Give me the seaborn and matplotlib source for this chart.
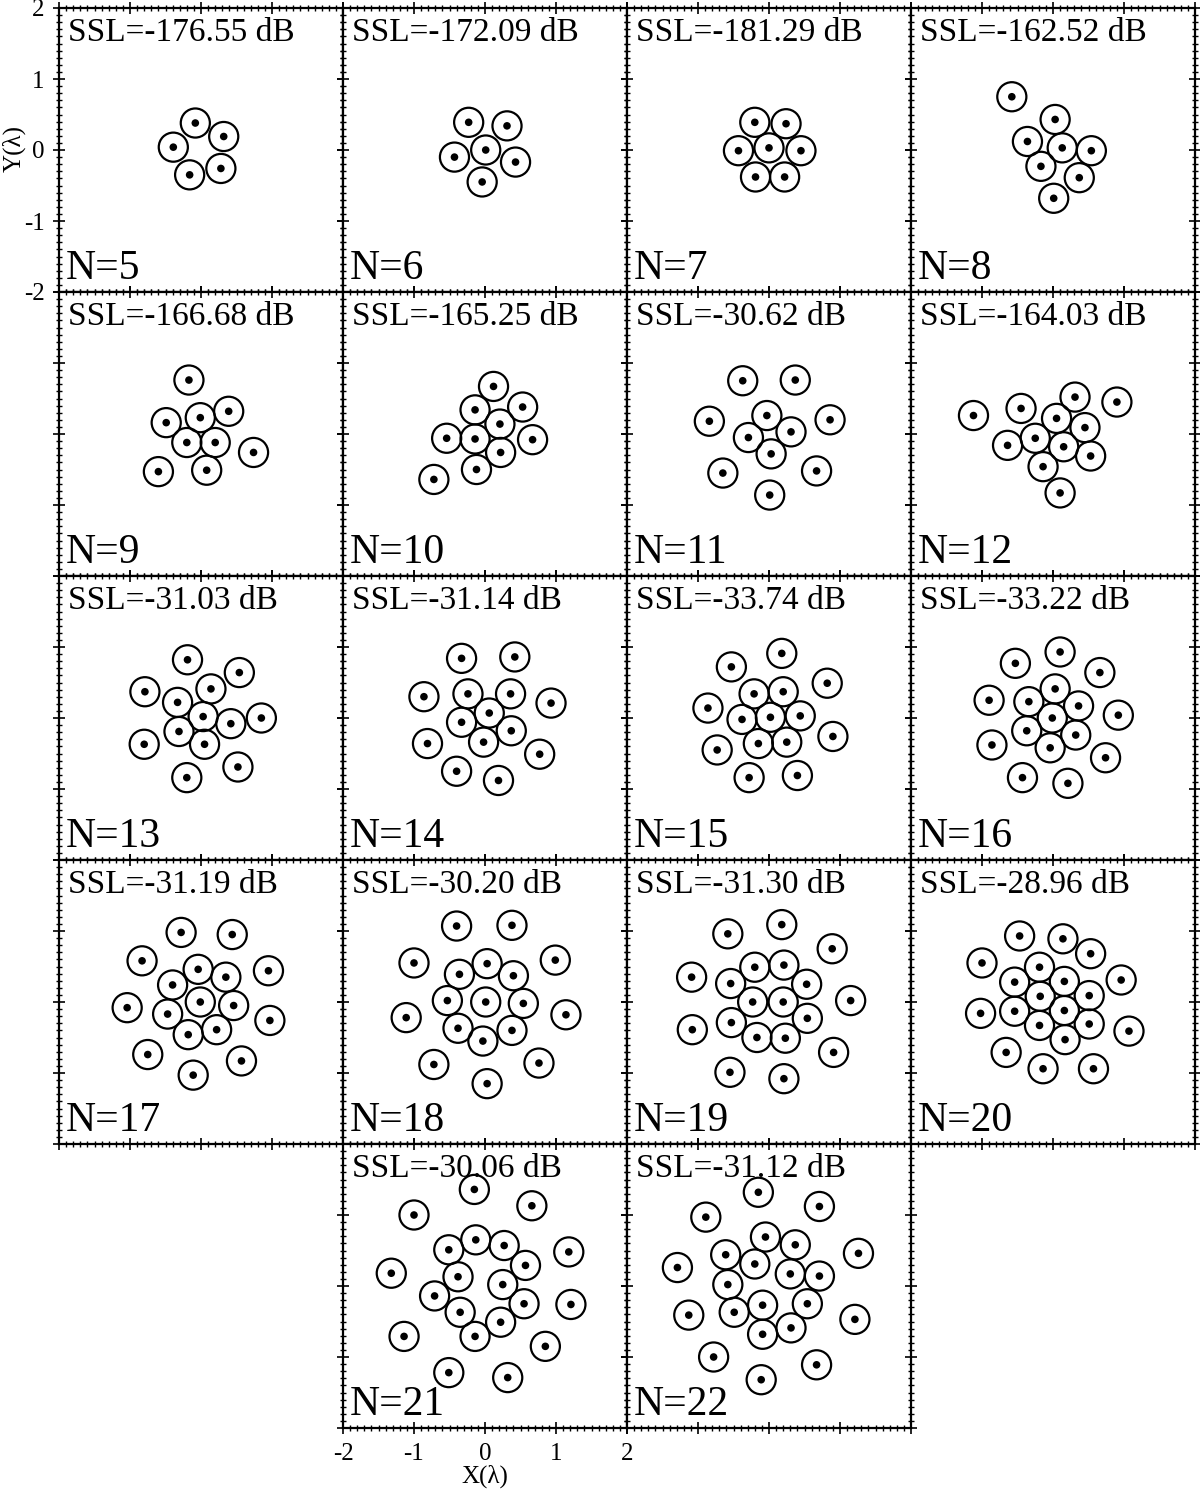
import numpy as np
import pandas as pd
import matplotlib
matplotlib.use("Agg")
import matplotlib.pyplot as plt
import seaborn as sns
from matplotlib.patches import Circle
from matplotlib.ticker import MultipleLocator

# element counts and side-lobe levels
n_elements = list(range(5, 23))
ssl_db = [-176.55, -172.09, -181.29, -162.52, -166.68, -165.25, -30.62, -164.03,
          -31.03, -31.14, -33.74, -33.22, -31.19, -30.20, -31.30, -28.96,
          -30.06, -31.12]

# element positions (in wavelengths)
x5 = [-0.08, 0.32, -0.39, 0.28, -0.16]
y5 = [0.38, 0.19, 0.04, -0.26, -0.35]
x6 = [-0.23, 0.31, -0.43, 0.01, 0.43, -0.04]
y6 = [0.39, 0.34, -0.10, 0.00, -0.17, -0.45]
x7 = [-0.20, 0.24, -0.43, 0.00, 0.45, -0.19, 0.22]
y7 = [0.39, 0.37, -0.01, 0.03, -0.01, -0.38, -0.38]
x8 = [-0.58, 0.03, -0.36, 0.13, 0.54, -0.17, 0.37, 0.01]
y8 = [0.75, 0.43, 0.12, 0.03, -0.01, -0.23, -0.39, -0.68]
x9 = [-0.17, -0.49, -0.01, 0.39, -0.20, 0.20, 0.74, -0.60, 0.08]
y9 = [0.76, 0.16, 0.23, 0.32, -0.12, -0.12, -0.26, -0.53, -0.51]
x10 = [0.12, -0.14, 0.53, 0.21, -0.54, -0.14, 0.67, 0.22, -0.12, -0.72]
y10 = [0.67, 0.34, 0.38, 0.14, -0.06, -0.07, -0.08, -0.26, -0.50, -0.64]
x11 = [-0.37, 0.37, -0.84, -0.03, 0.86, -0.29, 0.31, 0.03, -0.65, 0.67, 0.01]
y11 = [0.75, 0.76, 0.18, 0.26, 0.20, -0.05, 0.03, -0.28, -0.55, -0.52, -0.86]
x12 = [-1.12, -0.45, 0.31, 0.90, 0.05, 0.45, -0.64, -0.25, 0.15, 0.53, -0.14, 0.10]
y12 = [0.26, 0.36, 0.52, 0.45, 0.22, 0.09, -0.16, -0.06, -0.18, -0.31, -0.46, -0.83]
x13 = [-0.19, 0.54, -0.79, 0.14, -0.33, 0.03, 0.42, 0.85, -0.31, 0.05, -0.80, 0.52, -0.20]
y13 = [0.82, 0.64, 0.37, 0.41, 0.22, 0.02, -0.08, 0.00, -0.19, -0.37, -0.37, -0.69, -0.84]
x14 = [-0.33, 0.42, -0.86, -0.24, 0.36, 0.93, 0.06, -0.33, 0.37, -0.81, -0.02, 0.77,
       -0.40, 0.19]
y14 = [0.84, 0.86, 0.30, 0.34, 0.34, 0.21, 0.07, -0.06, -0.18, -0.36, -0.34, -0.51,
       -0.75, -0.88]
x15 = [0.18, -0.53, 0.82, -0.21, 0.20, -0.86, -0.38, 0.02, 0.44, 0.90, -0.15, 0.25,
       -0.73, -0.28, 0.40]
y15 = [0.91, 0.72, 0.49, 0.34, 0.37, 0.14, -0.02, 0.01, 0.03, -0.26, -0.36, -0.34,
       -0.45, -0.84, -0.81]
x16 = [0.10, -0.53, 0.66, -0.90, 0.03, -0.34, 0.36, 0.92, -0.01, -0.37, 0.32, -0.86,
       -0.04, 0.74, -0.43, 0.21]
y16 = [0.93, 0.77, 0.64, 0.25, 0.41, 0.23, 0.17, 0.04, 0.00, -0.18, -0.24, -0.38,
       -0.42, -0.56, -0.84, -0.92]
x17 = [-0.28, 0.44, -0.83, -0.04, 0.35, 0.95, -0.40, -0.01, 0.46, -1.04, -0.47, 0.97,
       -0.18, 0.22, -0.75, 0.57, -0.11]
y17 = [0.98, 0.95, 0.58, 0.46, 0.35, 0.44, 0.24, 0.00, -0.05, -0.08, -0.17, -0.26,
       -0.46, -0.39, -0.74, -0.83, -1.03]
x18 = [-0.40, 0.38, -1.00, 0.99, 0.03, -0.36, 0.40, -0.53, 0.01, 0.54, -1.11, 1.14,
       -0.38, 0.38, -0.03, -0.72, 0.76, 0.03]
y18 = [1.07, 1.08, 0.55, 0.59, 0.54, 0.39, 0.37, 0.02, 0.00, -0.02, -0.22, -0.18,
       -0.37, -0.40, -0.55, -0.88, -0.86, -1.15]
x19 = [0.18, -0.58, 0.89, -1.09, -0.20, 0.21, -0.54, 0.53, 1.15, -0.23, 0.20, -0.53,
       0.54, -1.08, -0.17, 0.23, 0.91, -0.55, 0.21]
y19 = [1.09, 0.96, 0.75, 0.35, 0.49, 0.52, 0.26, 0.25, 0.02, 0.00, 0.00, -0.29,
       -0.23, -0.39, -0.50, -0.51, -0.71, -0.99, -1.08]
x20 = [-0.47, 0.14, 0.53, -1.00, -0.19, 0.96, -0.54, 0.16, -0.18, 0.51, -1.02, -0.54,
       0.16, -0.19, 0.51, 1.07, 0.17, -0.66, -0.14, 0.57]
y20 = [0.93, 0.89, 0.68, 0.55, 0.49, 0.31, 0.28, 0.29, 0.08, 0.09, -0.16, -0.13,
       -0.12, -0.33, -0.31, -0.41, -0.53, -0.71, -0.94, -0.94]
x21 = [-0.15, 0.66, -1.00, -0.13, -0.51, 0.27, 1.18, 0.57, -1.32, -0.38, 0.25, -0.71,
       0.55, 1.21, -0.35, 0.22, -1.14, -0.14, 0.85, -0.51, 0.32]
y21 = [1.36, 1.13, 1.00, 0.65, 0.51, 0.57, 0.48, 0.29, 0.18, 0.13, 0.02, -0.14,
       -0.25, -0.26, -0.37, -0.51, -0.71, -0.71, -0.85, -1.22, -1.29]
x22 = [-0.15, 0.71, -0.89, -0.05, 0.37, -0.61, 1.26, -0.20, 0.30, -1.29, 0.71, -0.58,
       0.54, -0.09, -0.49, -1.13, 1.21, 0.31, -0.09, -0.78, 0.67, -0.11]
y22 = [1.32, 1.12, 0.97, 0.69, 0.58, 0.44, 0.46, 0.31, 0.17, 0.26, 0.14, 0.02,
       -0.25, -0.27, -0.37, -0.41, -0.47, -0.59, -0.68, -1.00, -1.11, -1.32]

xs = [x5, x6, x7, x8, x9, x10, x11, x12, x13, x14, x15, x16, x17, x18, x19, x20, x21, x22]
ys = [y5, y6, y7, y8, y9, y10, y11, y12, y13, y14, y15, y16, y17, y18, y19, y20, y21, y22]

rows = []
for n, xx, yy in zip(n_elements, xs, ys):
    for a, b in zip(xx, yy):
        rows.append({"N": n, "x": a, "y": b})
df = pd.DataFrame(rows)

sns.set_style("white")
plt.rcParams["font.family"] = ["Liberation Serif", "DejaVu Serif"]
plt.rcParams["text.color"] = "black"
plt.rcParams["axes.labelcolor"] = "black"
plt.rcParams["xtick.color"] = "black"
plt.rcParams["ytick.color"] = "black"
plt.rcParams["xtick.labelsize"] = 18
plt.rcParams["ytick.labelsize"] = 18

W, H = 1200, 1499
fig = plt.figure(figsize=(W / 100, H / 100), dpi=100)

# grid cell for each panel (row, col)
cells = [(r, c) for r in range(4) for c in range(4)] + [(4, 1), (4, 2)]
left0, top0, size = 59, 8, 284
radius = 0.205
ticks = [-2, -1, 0, 1, 2]

for i, n in enumerate(n_elements):
    r, c = cells[i]
    ax = fig.add_axes([(left0 + c * size) / W, 1 - (top0 + (r + 1) * size) / H,
                       size / W, size / H])
    sub = df[df["N"] == n]
    for a, b in zip(sub["x"], sub["y"]):
        ax.add_patch(Circle((a, b), radius, fill=False, ec="black", lw=1.6, zorder=2))
    sns.scatterplot(data=sub, x="x", y="y", ax=ax, color="black", s=30,
                    edgecolor="none", zorder=3, legend=False)
    ax.set_xlim(-2, 2)
    ax.set_ylim(-2, 2)
    ax.set_xticks(ticks)
    ax.set_yticks(ticks)
    ax.xaxis.set_minor_locator(MultipleLocator(0.1))
    ax.yaxis.set_minor_locator(MultipleLocator(0.1))
    ax.tick_params(which="major", direction="inout", length=9, width=1.2,
                   top=True, right=True, bottom=True, left=True, pad=6)
    ax.tick_params(which="minor", direction="inout", length=4, width=1.0,
                   top=True, right=True, bottom=True, left=True)
    for sp in ax.spines.values():
        sp.set_visible(True)
        sp.set_color("black")
        sp.set_linewidth(1.6)
    ax.set_xlabel("")
    ax.set_ylabel("")
    if n == 5:
        ax.set_yticklabels([str(t) for t in ticks], fontsize=18)
    else:
        ax.tick_params(axis="y", labelleft=False)
    if n == 21:
        ax.set_xticklabels([str(t) for t in ticks], fontsize=18)
        ax.set_xlabel("X(λ)", fontsize=18, labelpad=0)
    else:
        ax.tick_params(axis="x", labelbottom=False)
    ax.text(0.03, 0.968, f"SSL={ssl_db[i]:.2f} dB", transform=ax.transAxes,
            fontsize=24, va="top", ha="left")
    ax.text(0.025, 0.015, f"N={n}", transform=ax.transAxes,
            fontsize=30, va="bottom", ha="left")

fig.text(14 / W, 1 - 149 / H, "Y(λ)", rotation=90, fontsize=18,
         ha="center", va="center")

fig.savefig("out.png", dpi=100)
